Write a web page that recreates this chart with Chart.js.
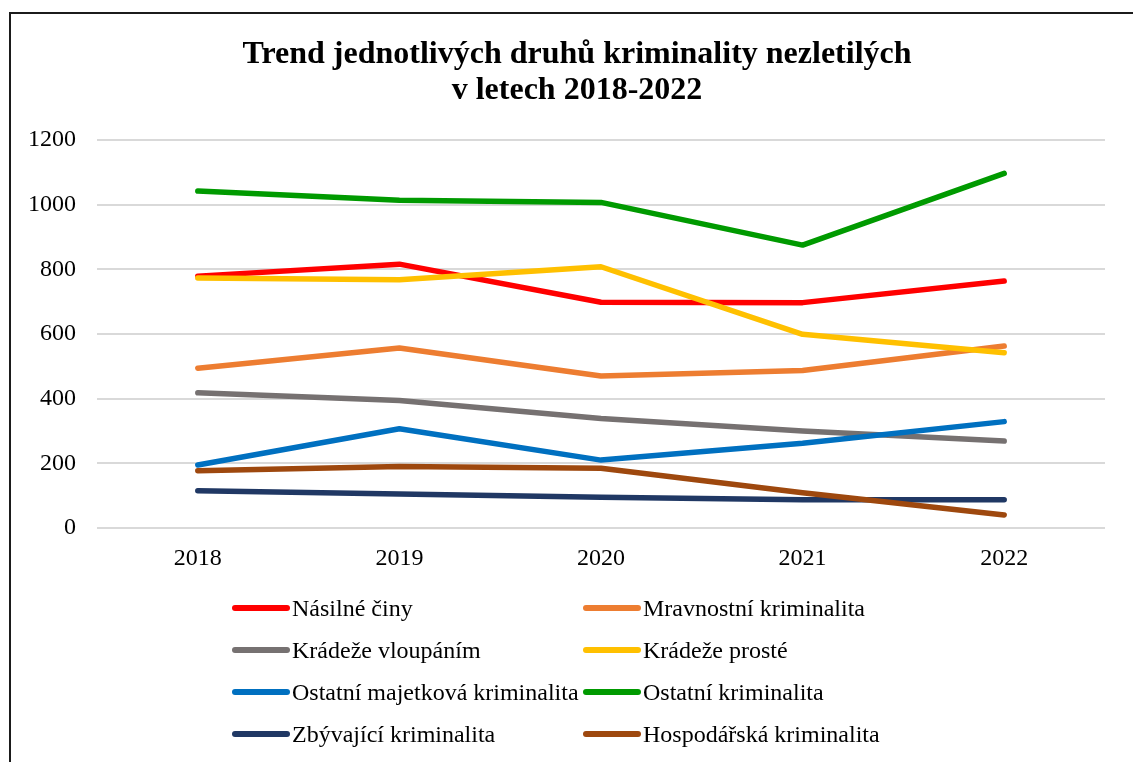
<!DOCTYPE html>
<html lang="cs">
<head>
<meta charset="utf-8">
<title>Trend jednotlivých druhů kriminality nezletilých</title>
<script src="https://cdn.jsdelivr.net/npm/chart.js@4.4.1/dist/chart.umd.min.js"></script>
<style>
    html, body { margin: 0; padding: 0; background: #fff; }
    body {
        width: 1133px; height: 762px; position: relative; overflow: hidden;
        font-family: 'Liberation Serif', 'Times New Roman', serif; color: #000;
    }
    #frame {
        position: absolute; left: 9px; top: 12px; width: 1200px; height: 800px;
        border-left: 2px solid #1b1b1b; border-top: 2px solid #1b1b1b;
    }
    #chart { position: absolute; left: 0; top: 0; }
    #title {
        position: absolute; left: 177px; top: 34px; width: 800px;
        text-align: center; font-weight: bold; font-size: 32px; line-height: 36px;
    }
    .legend-item {
        position: absolute; display: flex; align-items: center;
        font-size: 24px; line-height: 30px; white-space: nowrap;
    }
    .legend-mark { width: 58px; height: 6px; border-radius: 3px; margin-right: 2px; }
</style>
</head>
<body>
<div id="frame"></div>
<canvas id="chart" width="1133" height="762"></canvas>
<div id="title">Trend jednotlivých druhů kriminality nezletilých<br>v letech 2018-2022</div>
<div id="legend"></div>

<script>
"use strict";

// --- data ---
const years = ['2018', '2019', '2020', '2021', '2022'];

const nasilneCiny       = [779, 816, 698, 697, 764];
const mravnostni        = [494, 557, 470, 487, 563];
const kradezeVloupanim  = [418, 394, 339, 300, 269];
const kradezeProste     = [773, 768, 808, 599, 542];
const ostatniMajetkova  = [195, 307, 210, 262, 329];
const ostatniKrim       = [1042, 1014, 1007, 875, 1097];
const zbyvajici         = [115, 105, 95, 87, 87];
const hospodarska       = [177, 190, 185, 109, 40];

const seriesNames = [
    'Násilné činy', 'Mravnostní kriminalita',
    'Krádeže vloupáním', 'Krádeže prosté',
    'Ostatní majetková kriminalita', 'Ostatní kriminalita',
    'Zbývající kriminalita', 'Hospodářská kriminalita'
];
const seriesValues = [
    nasilneCiny, mravnostni, kradezeVloupanim, kradezeProste,
    ostatniMajetkova, ostatniKrim, zbyvajici, hospodarska
];
const seriesColors = [
    '#ff0000', '#ed7d31', '#767171', '#ffc000',
    '#0070c0', '#009a00', '#203864', '#9e480e'
];

const yMin = 0, yMax = 1200, yStep = 200;

const FONT = "'Liberation Serif', 'Times New Roman', serif";

// later series are drawn on top, like the original spreadsheet chart
const datasets = seriesNames.map((name, i) => ({
    label: name,
    data: seriesValues[i],
    borderColor: seriesColors[i],
    backgroundColor: seriesColors[i],
    order: seriesNames.length - 1 - i
}));

new Chart(document.getElementById('chart'), {
    type: 'line',
    data: { labels: years, datasets: datasets },
    options: {
        responsive: false,
        animation: false,
        layout: { padding: { left: 0, right: 28, top: 140, bottom: 194 } },
        plugins: {
            legend: { display: false },
            title: { display: false },
            tooltip: { enabled: false }
        },
        elements: {
            point: { radius: 0, hoverRadius: 0 },
            line: {
                borderWidth: 5.5, tension: 0,
                borderCapStyle: 'round', borderJoinStyle: 'round'
            }
        },
        scales: {
            x: {
                offset: true,
                grid: { display: false, drawTicks: false },
                border: { display: false },
                ticks: { color: '#000', font: { family: FONT, size: 24 }, padding: 16 },
                afterFit: (s) => { s.height = 40; }
            },
            y: {
                min: yMin, max: yMax,
                ticks: {
                    stepSize: yStep, color: '#000', font: { family: FONT, size: 24 }, padding: 21,
                    callback: (v) => String(v)
                },
                grid: { color: '#d9d9d9', lineWidth: 2, drawTicks: false },
                border: { display: false },
                afterFit: (s) => { s.width = 97; }
            }
        }
    }
});

// two-column legend, row by row
const legend = document.getElementById('legend');
const colX = [232, 583];
seriesNames.forEach((name, i) => {
    const item = document.createElement('div');
    item.className = 'legend-item';
    item.style.left = colX[i % 2] + 'px';
    item.style.top = (607.5 + Math.floor(i / 2) * 42 - 15) + 'px';
    const mark = document.createElement('span');
    mark.className = 'legend-mark';
    mark.style.background = seriesColors[i];
    const text = document.createElement('span');
    text.textContent = name;
    item.appendChild(mark);
    item.appendChild(text);
    legend.appendChild(item);
});
</script>
</body>
</html>
